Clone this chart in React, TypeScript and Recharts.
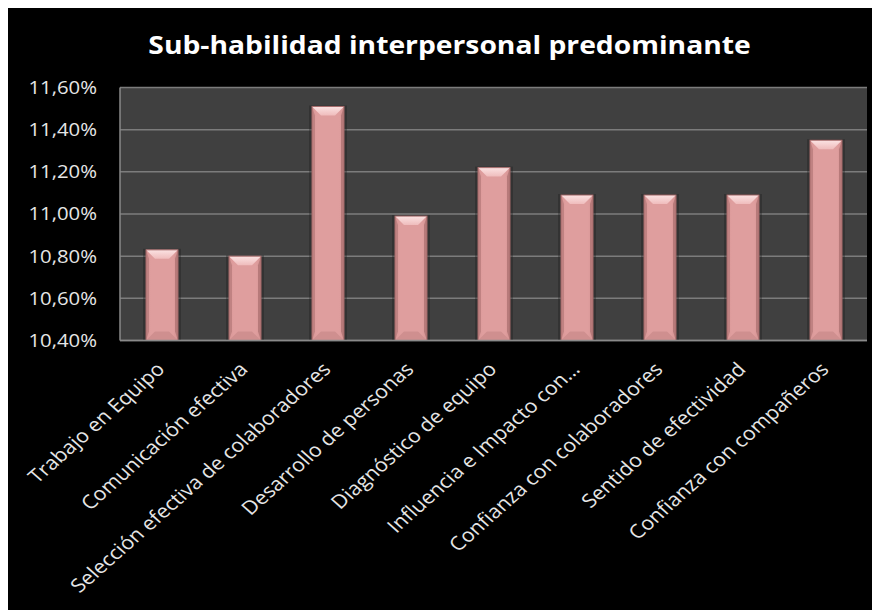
import React from "react";
import { BarChart, Bar, XAxis, YAxis, CartesianGrid } from "recharts";

// Sub-skill categories and their share (percent)
const categories = [
  "Trabajo en Equipo",
  "Comunicación efectiva",
  "Selección efectiva de colaboradores",
  "Desarrollo de personas",
  "Diagnóstico de equipo",
  "Influencia e Impacto con…",
  "Confianza con colaboradores",
  "Sentido de efectividad",
  "Confianza con compañeros",
];
const shares = [10.83, 10.8, 11.51, 10.99, 11.22, 11.09, 11.09, 11.09, 11.35];
const yTicks = [10.4, 10.6, 10.8, 11.0, 11.2, 11.4, 11.6];

const data = categories.map((name, i) => ({ name, value: shares[i] }));

const FONT = "'Open Sans', 'DejaVu Sans', sans-serif";
const STRETCH = 1.13;

const formatPct = (v: number) => `${v.toFixed(2).replace(".", ",")}%`;

// Pink bar with a bevelled, slightly raised look
const BevelBar = (props: any) => {
  const { x, y, width, height, index } = props;
  if (height <= 0) return null;
  const b = Math.min(9, height / 2);
  const s = 3;
  const id = `bev-top-${index}`;
  const bodyId = `bev-body-${index}`;
  return (
    <g>
      <defs>
        <linearGradient id={id} x1="0" y1="0" x2="0" y2="1">
          <stop offset="0%" stopColor="#fbe3e3" />
          <stop offset="100%" stopColor="#efbcbc" />
        </linearGradient>
        <linearGradient id={bodyId} x1="0" y1="0" x2="1" y2="0">
          <stop offset="0%" stopColor="#d99696" />
          <stop offset="15%" stopColor="#df9e9e" />
          <stop offset="85%" stopColor="#df9e9e" />
          <stop offset="100%" stopColor="#d49292" />
        </linearGradient>
      </defs>
      <rect x={x - 3} y={y - 1} width={width + 6} height={height + 1} fill="#1e1e1e" opacity={0.35} />
      <rect x={x} y={y} width={width} height={height} fill={`url(#${bodyId})`} />
      <polygon
        points={`${x},${y} ${x + s},${y + b} ${x + s},${y + height - b} ${x},${y + height}`}
        fill="#c08282"
      />
      <polygon
        points={`${x + width},${y} ${x + width - s},${y + b} ${x + width - s},${y + height - b} ${x + width},${y + height}`}
        fill="#b77a7a"
      />
      <polygon
        points={`${x},${y} ${x + width},${y} ${x + width - b},${y + b} ${x + b},${y + b}`}
        fill={`url(#${id})`}
      />
      <polygon
        points={`${x},${y + height} ${x + width},${y + height} ${x + width - b},${y + height - b} ${x + b},${y + height - b}`}
        fill="#cf8f8f"
      />
      <rect x={x} y={y} width={width} height={height} fill="none" stroke="#a56b6b" strokeWidth={1} />
    </g>
  );
};

// Slanted category label, ending just under its bar
const CategoryTick = (props: any) => {
  const { x, y, payload } = props;
  return (
    <g transform={`translate(${x + 4.5},${y + 28}) scale(${STRETCH},1) rotate(-45)`}>
      <text textAnchor="end" fill="#e6e6e6" fontSize={19} fontFamily={FONT}>
        {payload.value}
      </text>
    </g>
  );
};

// Percentage label on the value axis
const PercentTick = (props: any) => {
  const { x, y, payload } = props;
  return (
    <g transform={`translate(${x},${y}) scale(${STRETCH},1)`}>
      <text textAnchor="end" dy="0.36em" fill="#e6e6e6" fontSize={18} fontFamily={FONT}>
        {formatPct(payload.value)}
      </text>
    </g>
  );
};

export default function App() {
  return (
    <div
      style={{
        position: "relative",
        width: 872,
        height: 604,
        marginTop: -2,
        background: "#000",
      }}
    >
      <div
        style={{
          position: "absolute",
          left: 0,
          width: 883,
          top: 22,
          textAlign: "center",
          color: "#ffffff",
          fontFamily: FONT,
          fontWeight: 700,
          fontSize: 25,
          lineHeight: "32px",
          whiteSpace: "nowrap",
        }}
      >
        <span style={{ display: "inline-block", transform: `scaleX(${STRETCH})` }}>
          Sub-habilidad interpersonal predominante
        </span>
      </div>
      <BarChart
        width={872}
        height={604}
        data={data}
        margin={{ top: 81.5, right: 13, bottom: 9.5, left: 0 }}
        barSize={32}
      >
        <CartesianGrid
          vertical={false}
          stroke="#7c7c7c"
          strokeWidth={1.5}
          fill="#404040"
          fillOpacity={1}
        />
        <XAxis
          dataKey="name"
          interval={0}
          height={260}
          tickLine={false}
          tickSize={0}
          axisLine={{ stroke: "#8a8a8a", strokeWidth: 1.5 }}
          tick={<CategoryTick />}
        />
        <YAxis
          type="number"
          domain={[10.4, 11.6]}
          ticks={yTicks}
          allowDataOverflow
          width={112}
          tickLine={false}
          tickSize={0}
          tickMargin={23}
          axisLine={{ stroke: "#8a8a8a", strokeWidth: 1.5 }}
          tick={<PercentTick />}
        />
        <Bar dataKey="value" isAnimationActive={false} shape={<BevelBar />} />
      </BarChart>
    </div>
  );
}
